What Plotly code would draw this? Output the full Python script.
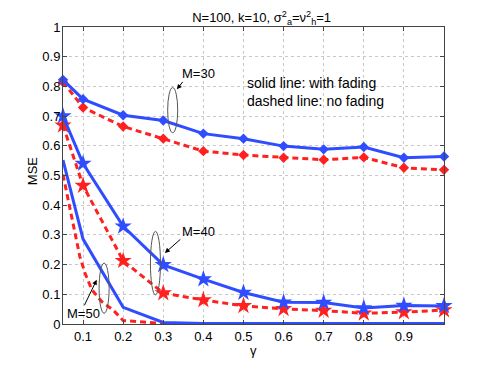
import plotly.graph_objects as go

# gamma values on the x axis
gamma = [0.05, 0.1, 0.2, 0.3, 0.4, 0.5, 0.6, 0.7, 0.8, 0.9, 1.0]

# M=30 (diamonds)
mse_m30_fading = [0.822, 0.757, 0.703, 0.685, 0.641, 0.624, 0.599, 0.588, 0.596, 0.560, 0.564]
mse_m30_nofading = [0.815, 0.729, 0.665, 0.624, 0.582, 0.569, 0.560, 0.553, 0.561, 0.526, 0.519]

# M=40 (stars)
mse_m40_fading = [0.700, 0.540, 0.329, 0.199, 0.151, 0.106, 0.073, 0.072, 0.054, 0.062, 0.061]
mse_m40_nofading = [0.669, 0.466, 0.213, 0.104, 0.081, 0.061, 0.051, 0.045, 0.036, 0.040, 0.047]

# M=50 (no markers)
mse_m50_fading = [0.552, 0.286, 0.056, 0.005, 0.002, 0.002, 0.002, 0.002, 0.002, 0.002, 0.002]
gamma_m50_nf = [0.05, 0.068, 0.08, 0.092, 0.105, 0.122, 0.147, 0.175, 0.2, 0.3, 0.4, 0.5,
                0.6, 0.7, 0.8, 0.9, 1.0]
mse_m50_nofading = [0.503, 0.385, 0.295, 0.227, 0.171, 0.115, 0.075, 0.047, 0.012, 0.002,
                    0.001, 0.001, 0.001, 0.001, 0.001, 0.001, 0.001]

xticks = [0.1, 0.2, 0.3, 0.4, 0.5, 0.6, 0.7, 0.8, 0.9]
yticks = [0, 0.1, 0.2, 0.3, 0.4, 0.5, 0.6, 0.7, 0.8, 0.9, 1]
ytick_text = ["0", "0.1", "0.2", "0.3", "0.4", "0.5", "0.6", "0.7", "0.8", "0.9", "1"]

BLUE = "#2f4dff"
RED = "#ff2020"
FONT = "Liberation Sans, Arial, sans-serif"

fig = go.Figure()

def add(x, y, color, dash, symbol=None, msize=8):
    fig.add_trace(go.Scatter(
        x=x, y=y, mode="lines+markers" if symbol else "lines",
        line=dict(color=color, width=3, dash=dash),
        marker=dict(symbol=symbol, size=msize, color=color) if symbol else None,
        showlegend=False, cliponaxis=False))

add(gamma, mse_m30_nofading, RED, "6px,4px", "diamond", 8)
add(gamma, mse_m30_fading, BLUE, "solid", "diamond", 8)
add(gamma, mse_m40_nofading, RED, "6px,4px", "star", 13)
add(gamma, mse_m40_fading, BLUE, "solid", "star", 13)
add(gamma_m50_nf, mse_m50_nofading, RED, "6px,4px")
add(gamma, mse_m50_fading, BLUE, "solid")

# ellipses grouping the curves
ell = dict(type="circle", xref="x", yref="y", line=dict(color="#555555", width=1))
fig.add_shape(x0=0.311, x1=0.336, y0=0.644, y1=0.796, **ell)
fig.add_shape(x0=0.268, x1=0.293, y0=0.098, y1=0.312, **ell)
fig.add_shape(x0=0.140, x1=0.165, y0=0.036, y1=0.205, **ell)

txt = dict(showarrow=False, font=dict(size=13, color="black", family=FONT))
fig.add_annotation(x=0.389, y=0.845, text="M=30", **txt)
fig.add_annotation(x=0.389, y=0.311, text="M=40", **txt)
fig.add_annotation(x=0.1016, y=0.037, text="M=50", **txt)
fig.add_annotation(x=0.505, y=0.78, text="solid line: with fading<br>dashed line: no fading",
                   xanchor="left", align="left", showarrow=False,
                   font=dict(size=14, color="black", family=FONT))

arr = dict(text="", showarrow=True, arrowhead=2, arrowsize=1, arrowwidth=1, arrowcolor="black")
fig.add_annotation(x=0.334, y=0.79, ax=7, ay=-9, **arr)
fig.add_annotation(x=0.304, y=0.239, ax=17, ay=-15, **arr)
fig.add_annotation(x=0.134, y=0.149, ax=-13, ay=27, **arr)

# axis titles placed by hand
fig.add_annotation(x=0.5, y=-0.088, xref="paper", yref="paper", text="γ",
                   yanchor="middle", **txt)
fig.add_annotation(x=-0.081, y=0.515, xref="paper", yref="paper", text="MSE",
                   textangle=-90, xanchor="center", **txt)

# the page body adds an 8px offset, so margins are shifted to compensate
fig.update_layout(
    width=491, height=365,
    margin=dict(l=55, r=55, t=19, b=49, autoexpand=False),
    paper_bgcolor="white", plot_bgcolor="white",
    font=dict(family=FONT, size=13, color="black"),
    title=dict(text="N=100, k=10, σ<sup>2</sup><sub>a</sub>=ν<sup>2</sup><sub>h</sub>=1",
               x=0.5165, xanchor="center", y=0.974, yanchor="middle",
               font=dict(size=13)),
)
fig.update_xaxes(
    range=[0.05, 1.0], tickvals=xticks, ticktext=[str(v) for v in xticks],
    showgrid=True, gridcolor="#c8c8c8", griddash="dot", gridwidth=1,
    showline=True, linecolor="#444444", linewidth=1, mirror="ticks",
    ticks="inside", ticklen=4, tickcolor="#444444", zeroline=False,
    automargin=False,
)
fig.update_yaxes(
    range=[0, 1], tickvals=yticks, ticktext=ytick_text,
    showgrid=True, gridcolor="#c8c8c8", griddash="dot", gridwidth=1,
    showline=True, linecolor="#444444", linewidth=1, mirror="ticks",
    ticks="inside", ticklen=4, tickcolor="#444444", zeroline=False,
    automargin=False, ticklabelstandoff=-1,
)

fig.write_html("out.html")
